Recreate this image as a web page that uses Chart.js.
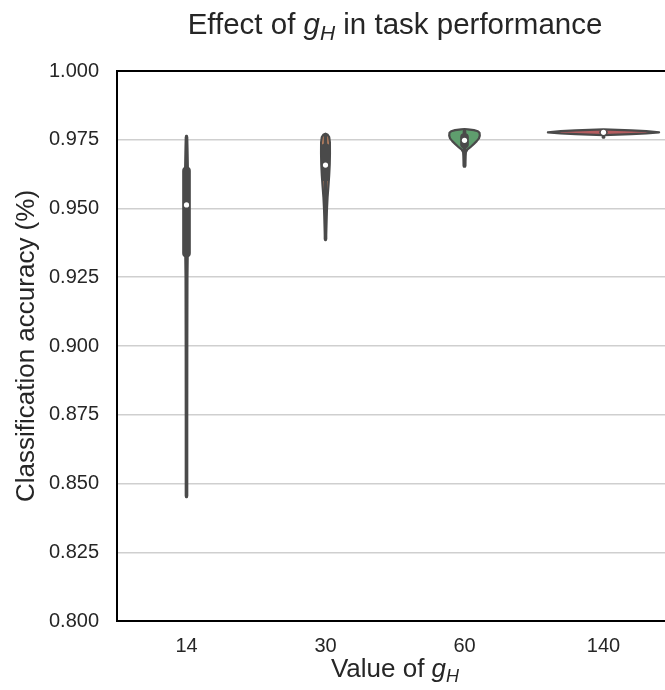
<!DOCTYPE html>
<html>
<head>
<meta charset="utf-8">
<script src="https://cdn.jsdelivr.net/npm/chart.js@4"></script>
<style>
  body { margin: 0; overflow: hidden; background: #fff; }
</style>
</head>
<body>
<canvas id="chart" width="680" height="690"></canvas>
<script>
// categories: values of g_H
const groups = ['14', '30', '60', '140'];
const violinColors = ['#5975a4', '#cc8963', '#5f9e6e', '#b55d60'];

// violin outlines: [accuracy, relative half-width]
const density14 = [[0.845, 0.006], [0.870, 0.007], [0.900, 0.009], [0.925, 0.013], [0.935, 0.022],
  [0.945, 0.028], [0.955, 0.030], [0.965, 0.024], [0.972, 0.014], [0.9764, 0.006]];
const density30 = [[0.9385, 0.004], [0.942, 0.010], [0.946, 0.018], [0.950, 0.027], [0.954, 0.037],
  [0.958, 0.052], [0.962, 0.066], [0.966, 0.076], [0.970, 0.080], [0.974, 0.079], [0.9760, 0.066],
  [0.9768, 0.040], [0.9772, 0.0]];
const density60 = [[0.9652, 0.012], [0.9670, 0.014], [0.9690, 0.018], [0.9705, 0.025], [0.9714, 0.050],
  [0.9722, 0.100], [0.9735, 0.170], [0.9745, 0.220], [0.9755, 0.260], [0.9765, 0.275], [0.9775, 0.270],
  [0.9781, 0.240], [0.9785, 0.170], [0.9788, 0.060], [0.9789, 0.0]];
const density140 = [[0.97665, 0.0], [0.97683, 0.25], [0.97701, 0.5], [0.97728, 0.77], [0.9777, 1.0],
  [0.97812, 0.77], [0.97839, 0.5], [0.97857, 0.25], [0.97875, 0.0]];
const densities = [density14, density30, density60, density140];

// inner box statistics
const whiskerMin = [0.845, 0.9385, 0.9652, 0.9755];
const whiskerMax = [0.9764, 0.9772, 0.9786, 0.9786];
const q1 = [0.9324, 0.9600, 0.9720, 0.9773];
const q3 = [0.9651, 0.9735, 0.9772, 0.9781];
const medians = [0.9513, 0.9658, 0.9748, 0.9777];

const yTicks = [0.800, 0.825, 0.850, 0.875, 0.900, 0.925, 0.950, 0.975, 1.000];

const FONT = '"Liberation Sans", Arial, sans-serif';
const INK = '#262626';
const EDGE = '#4a4a4a';

function drawMathLabel(ctx, before, after, size, cx, baseline) {
  const normal = size + 'px ' + FONT;
  const ital = 'italic ' + size + 'px ' + FONT;
  const sub = 'italic ' + Math.round(size * 0.7) + 'px ' + FONT;
  ctx.font = normal; const w1 = ctx.measureText(before).width; const w4 = ctx.measureText(after).width;
  ctx.font = ital; const w2 = ctx.measureText('g').width;
  ctx.font = sub; const w3 = ctx.measureText('H').width;
  let x = cx - (w1 + w2 + w3 + w4) / 2;
  ctx.fillStyle = INK;
  ctx.textBaseline = 'alphabetic';
  ctx.textAlign = 'left';
  ctx.font = normal; ctx.fillText(before, x, baseline); x += w1;
  ctx.font = ital; ctx.fillText('g', x, baseline); x += w2;
  ctx.font = sub; ctx.fillText('H', x, baseline + size * 0.2); x += w3;
  ctx.font = normal; ctx.fillText(after, x, baseline);
}

const violinPlugin = {
  id: 'violins',
  beforeDatasetsDraw(chart) {
    const ctx = chart.ctx;
    const xs = chart.scales.x, ys = chart.scales.y;
    const halfMax = 0.4 * xs.width / groups.length;
    ctx.save();
    densities.forEach((prof, i) => {
      const cx = xs.getPixelForValue(i);
      ctx.beginPath();
      prof.forEach(([v, w], k) => {
        const px = cx + w * halfMax, py = ys.getPixelForValue(v);
        if (k === 0) ctx.moveTo(px, py); else ctx.lineTo(px, py);
      });
      for (let k = prof.length - 1; k >= 0; k--) {
        const [v, w] = prof[k];
        ctx.lineTo(cx - w * halfMax, ys.getPixelForValue(v));
      }
      ctx.closePath();
      ctx.fillStyle = violinColors[i];
      ctx.fill();
      ctx.lineWidth = 2.2;
      ctx.lineJoin = 'round';
      ctx.strokeStyle = EDGE;
      ctx.stroke();
    });
    ctx.restore();
  },
  afterDraw(chart) {
    const ctx = chart.ctx;
    const a = chart.chartArea;
    ctx.save();
    ctx.strokeStyle = '#000';
    ctx.lineWidth = 2;
    ctx.strokeRect(a.left, a.top, a.right - a.left, a.bottom - a.top);
    drawMathLabel(ctx, 'Effect of ', ' in task performance', 29.5, (a.left + a.right) / 2, 34);
    drawMathLabel(ctx, 'Value of ', '', 26, (a.left + a.right) / 2, 677);
    ctx.restore();
  }
};

new Chart(document.getElementById('chart'), {
  data: {
    labels: groups,
    datasets: [
      {
        type: 'line', data: medians, showLine: false, order: 0,
        pointRadius: 2.6, pointBackgroundColor: '#ffffff', pointBorderWidth: 0
      },
      {
        type: 'bar', data: groups.map((g, i) => [q1[i], q3[i]]), order: 1,
        grouped: false, barThickness: 8, backgroundColor: EDGE,
        borderRadius: 4, borderSkipped: false
      },
      {
        type: 'bar', data: groups.map((g, i) => [whiskerMin[i], whiskerMax[i]]), order: 2,
        grouped: false, barThickness: 3, backgroundColor: EDGE,
        borderRadius: 1.5, borderSkipped: false
      }
    ]
  },
  options: {
    responsive: false,
    animation: false,
    layout: { padding: { top: 71, right: 7, left: 0, bottom: 0 } },
    plugins: { legend: { display: false }, tooltip: { enabled: false } },
    scales: {
      x: {
        grid: { display: false, drawTicks: false },
        border: { display: false },
        ticks: { font: { family: FONT, size: 20 }, color: INK, padding: 13 },
        afterFit(s) { s.height = 69; }
      },
      y: {
        min: 0.8, max: 1.0,
        afterBuildTicks(s) { s.ticks = yTicks.map(v => ({ value: v })); },
        grid: { color: '#cfcfcf', lineWidth: 1.5, drawTicks: false },
        border: { display: false },
        ticks: {
          font: { family: FONT, size: 20 }, color: INK, padding: 18,
          callback: v => Number(v).toFixed(3)
        },
        title: {
          display: true, text: 'Classification accuracy (%)',
          font: { family: FONT, size: 26 }, color: INK, padding: { top: 11, bottom: 0 }
        },
        afterFit(s) { s.width = 117; }
      }
    }
  },
  plugins: [violinPlugin]
});
</script>
</body>
</html>
